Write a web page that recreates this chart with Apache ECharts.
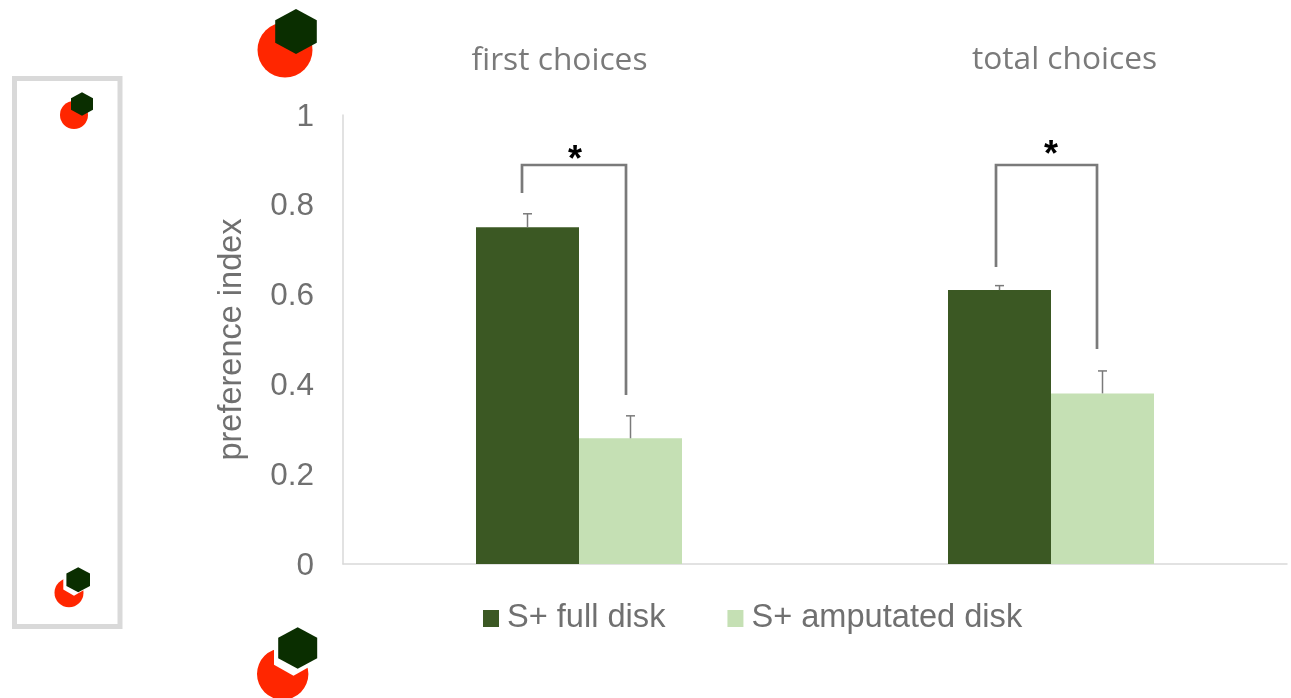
<!DOCTYPE html>
<html>
<head>
<meta charset="utf-8">
<style>html,body{margin:0;padding:0;background:#fff}#c{width:1291px;height:698px}</style>
<script src="https://cdn.jsdelivr.net/npm/echarts@6/dist/echarts.min.js"></script>
</head>
<body>
<div id="c"></div>
<script>
var categories = ['first choices', 'total choices'];
var seriesNames = ['S+ full disk', 'S+ amputated disk'];
var fullDisk = [0.75, 0.61];
var amputatedDisk = [0.28, 0.38];
var fullDiskUpper = [0.78, 0.62];
var amputatedDiskUpper = [0.33, 0.43];
var yTicks = [0, 0.2, 0.4, 0.6, 0.8, 1];

var GREY = '#7a7a7a', LABEL = '#707070', DARK = '#3b5823', LIGHT = '#c5e0b4';
var RED = '#ff2600', HEX = '#0a2e00';

function hex(cx, cy, rx, ry, fill) {
  var pts = [
    [cx, cy - ry], [cx + rx, cy - ry / 2], [cx + rx, cy + ry / 2],
    [cx, cy + ry], [cx - rx, cy + ry / 2], [cx - rx, cy - ry / 2]
  ];
  return { type: 'polygon', shape: { points: pts }, style: { fill: fill } };
}
function circle(cx, cy, r) {
  return { type: 'circle', shape: { cx: cx, cy: cy, r: r }, style: { fill: RED } };
}
function bracket(pts) {
  return { type: 'polyline', shape: { points: pts }, style: { stroke: GREY, lineWidth: 2.7, fill: null } };
}
function label(text, x, y, size, family, color, weight) {
  return { type: 'text', x: x, y: y, style: { text: text, fill: color, font: (weight || 'normal') + ' ' + size + 'px ' + family, textAlign: 'center', textVerticalAlign: 'middle' } };
}

function errorSeries(values, upper, side) {
  return {
    type: 'custom',
    silent: true,
    z: 5,
    data: values.map(function (v, i) { return [i, v, upper[i]]; }),
    renderItem: function (params, api) {
      var base = api.coord([api.value(0), api.value(1)]);
      var top = api.coord([api.value(0), api.value(2)]);
      var x = base[0] + side * 51.5;
      var st = { stroke: GREY, lineWidth: 1.5 };
      return { type: 'group', children: [
        { type: 'line', shape: { x1: x, y1: base[1], x2: x, y2: top[1] }, style: st },
        { type: 'line', shape: { x1: x - 4.5, y1: top[1], x2: x + 4.5, y2: top[1] }, style: st }
      ] };
    }
  };
}

var chart = echarts.init(document.getElementById('c'), null, { renderer: 'canvas' });
chart.setOption({
  backgroundColor: '#fff',
  animation: false,
  grid: { left: 343, right: 4, top: 115, bottom: 134, containLabel: false },
  legend: {
    left: 478, top: 597,
    itemWidth: 16, itemHeight: 17, itemGap: 62,
    icon: 'rect',
    data: seriesNames,
    textStyle: { fontFamily: 'Liberation Sans', fontSize: 32.6, color: LABEL, padding: [2, 0, 0, 3] }
  },
  xAxis: {
    type: 'category', data: categories,
    axisTick: { show: false }, axisLabel: { show: false },
    axisLine: { lineStyle: { color: '#d9d9d9', width: 1.5 } }
  },
  yAxis: {
    type: 'value', min: 0, max: 1, interval: 0.2,
    name: 'preference index', nameLocation: 'middle', nameGap: 94, nameRotate: 90,
    nameTextStyle: { fontFamily: 'Liberation Sans', fontSize: 32.5, color: LABEL },
    splitLine: { show: false }, axisTick: { show: false },
    axisLine: { show: true, lineStyle: { color: '#d9d9d9', width: 1.5 } },
    axisLabel: { margin: 29, fontFamily: 'Liberation Sans', fontSize: 31.5, color: LABEL, verticalAlign: 'top', lineHeight: 4,
      formatter: function (v) { return String(yTicks[Math.round(v * 5)]); } }
  },
  series: [
    { name: seriesNames[0], type: 'bar', data: fullDisk, barWidth: 103, barGap: 0, itemStyle: { color: DARK } },
    { name: seriesNames[1], type: 'bar', data: amputatedDisk, barWidth: 103, barGap: 0, itemStyle: { color: LIGHT } },
    errorSeries(fullDisk, fullDiskUpper, -1),
    errorSeries(amputatedDisk, amputatedDiskUpper, 1)
  ],
  graphic: [
    { type: 'rect', shape: { x: 14.5, y: 78.5, width: 105.5, height: 548 }, style: { fill: null, stroke: '#d9d9d9', lineWidth: 5 } },
    circle(74, 115, 14), hex(82, 104, 11, 11.7, HEX),
    circle(69, 592.7, 14.5), hex(74, 583.4, 10.7, 12.3, '#fff'), hex(78.2, 579.8, 11.8, 12.5, HEX),
    circle(285, 50, 27.5), hex(296, 31.5, 20.8, 22.5, HEX),
    circle(282.7, 674, 25.7), hex(293.5, 653.7, 19.5, 22, '#fff'), hex(297.7, 648, 19.5, 20.7, HEX),
    label(categories[0], 559.5, 60.5, 31.7, '"Open Sans"', GREY),
    label(categories[1], 1064.5, 59.5, 31.7, '"Open Sans"', GREY),
    bracket([[522, 193], [522, 165], [626, 165], [626, 395]]),
    bracket([[996, 267], [996, 165], [1097, 165], [1097, 349]]),
    label('*', 575, 161, 36, '"Liberation Sans"', '#000', 'bold'),
    label('*', 1051, 156, 36, '"Liberation Sans"', '#000', 'bold')
  ]
});
</script>
</body>
</html>
